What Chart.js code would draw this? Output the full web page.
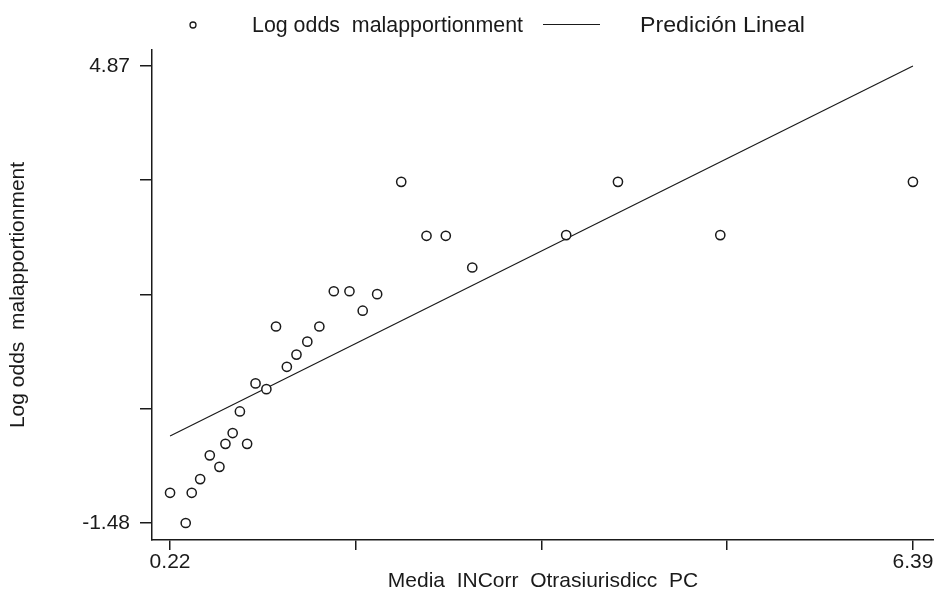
<!DOCTYPE html>
<html>
<head>
    <title>Log odds malapportionment</title>
    <script src="https://cdn.jsdelivr.net/npm/chart.js"></script>
    <style>
        body { margin: 0; background: #fff; }
    </style>
</head>
<body>
    <canvas id="myChart" width="934" height="591"></canvas>

    <script>
        // observed points
        const mediaIncorr = [0.22, 0.35, 0.40, 0.47, 0.55, 0.63, 0.68, 0.74, 0.80, 0.86,
                             0.93, 1.02, 1.10, 1.19, 1.27, 1.36, 1.46, 1.58, 1.71, 1.82,
                             1.94, 2.14, 2.35, 2.51, 2.73, 3.51, 3.94, 4.79, 6.39];
        const logOdds = [-1.06, -1.48, -1.06, -0.87, -0.54, -0.70, -0.38, -0.23, 0.07, -0.38,
                         0.46, 0.38, 1.25, 0.69, 0.86, 1.04, 1.25, 1.74, 1.74, 1.47,
                         1.70, 3.26, 2.51, 2.51, 2.07, 2.52, 3.26, 2.52, 3.26];

        // fitted line endpoints
        const predX = [0.22, 6.39];
        const predY = [-0.27, 4.87];

        const xTicks = [0.22, 1.7625, 3.305, 4.8475, 6.39];
        const yTicks = [-1.48, 0.1075, 1.695, 3.2825, 4.87];

        const xTitle = 'Media  INCorr  Otrasiurisdicc  PC';
        const yTitle = 'Log odds  malapportionment';
        const legendScatter = 'Log odds  malapportionment';
        const legendLine = 'Predición Lineal';

        const ink = '#1a1a1a';
        const axisFont = { family: 'Arial, "Liberation Sans", sans-serif', size: 21 };

        // squeeze a label into the width it takes in the original
        function fitText(ctx, text, x, y, w) {
            const m = ctx.measureText(text).width;
            ctx.save();
            ctx.translate(x, y);
            ctx.scale(w / m, 1);
            ctx.fillText(text, 0, 0);
            ctx.restore();
        }

        // legend drawn by hand, spacing is wide in the original
        const legendPlugin = {
            id: 'handLegend',
            afterDraw(chart) {
                const ctx = chart.ctx;
                ctx.save();
                ctx.strokeStyle = ink;
                ctx.fillStyle = ink;
                ctx.lineWidth = 1.3;
                ctx.beginPath();
                ctx.arc(193, 25, 3, 0, Math.PI * 2);
                ctx.stroke();
                ctx.beginPath();
                ctx.moveTo(543, 24.5);
                ctx.lineTo(600, 24.5);
                ctx.lineWidth = 1.2;
                ctx.stroke();
                ctx.font = '22px "Liberation Sans Narrow", Arial, sans-serif';
                ctx.textBaseline = 'alphabetic';
                fitText(ctx, legendScatter, 252, 32, 271);
                fitText(ctx, legendLine, 640, 32, 165);
                ctx.restore();
            }
        };

        const ctx = document.getElementById('myChart').getContext('2d');
        const myChart = new Chart(ctx, {
            data: {
                datasets: [{
                    type: 'scatter',
                    label: legendScatter,
                    data: mediaIncorr.map((x, i) => ({ x: x, y: logOdds[i] })),
                    pointStyle: 'circle',
                    pointRadius: 4.6,
                    pointBorderWidth: 1.5,
                    pointBorderColor: ink,
                    pointBackgroundColor: '#fff'
                }, {
                    type: 'line',
                    label: legendLine,
                    data: predX.map((x, i) => ({ x: x, y: predY[i] })),
                    borderColor: ink,
                    borderWidth: 1.2,
                    pointRadius: 0,
                    fill: false
                }]
            },
            options: {
                responsive: false,
                devicePixelRatio: 1,
                animation: false,
                events: [],
                layout: { autoPadding: false, padding: { top: 50, left: 0, right: 0, bottom: 0 } },
                plugins: {
                    legend: { display: false },
                    tooltip: { enabled: false }
                },
                scales: {
                    x: {
                        type: 'linear',
                        min: 0.07,
                        max: 6.565,
                        afterBuildTicks: s => { s.ticks = xTicks.map(v => ({ value: v })); },
                        afterFit: s => { s.height = 51; s.paddingLeft = 0; s.paddingRight = 0; },
                        border: { display: true, color: ink, width: 1.5 },
                        grid: { drawOnChartArea: false, drawTicks: true, tickLength: 10, color: ink, lineWidth: 1.5 },
                        ticks: {
                            color: ink,
                            font: axisFont,
                            padding: 0,
                            maxRotation: 0,
                            autoSkip: false,
                            callback: (v, i) => (i === 0 || i === xTicks.length - 1) ? v.toFixed(2) : ''
                        },
                        title: {
                            display: true, text: xTitle, color: ink,
                            font: { family: axisFont.family, size: 21, lineHeight: 0.9 },
                            padding: { top: 0, bottom: 0 }
                        }
                    },
                    y: {
                        type: 'linear',
                        min: -1.716,
                        max: 5.092,
                        afterBuildTicks: s => { s.ticks = yTicks.map(v => ({ value: v })); },
                        afterFit: s => { s.width = 152; s.paddingTop = 0; s.paddingBottom = 0; },
                        border: { display: true, color: ink, width: 1.5 },
                        grid: { drawOnChartArea: false, drawTicks: true, tickLength: 12, color: ink, lineWidth: 1.5 },
                        ticks: {
                            color: ink,
                            font: axisFont,
                            padding: 10,
                            autoSkip: false,
                            callback: (v, i) => (i === 0 || i === yTicks.length - 1) ? v.toFixed(2) : ''
                        },
                        title: { display: true, text: yTitle, color: ink, font: axisFont, padding: { top: 6, bottom: 0 } }
                    }
                }
            },
            plugins: [legendPlugin]
        });
    </script>
</body>
</html>
